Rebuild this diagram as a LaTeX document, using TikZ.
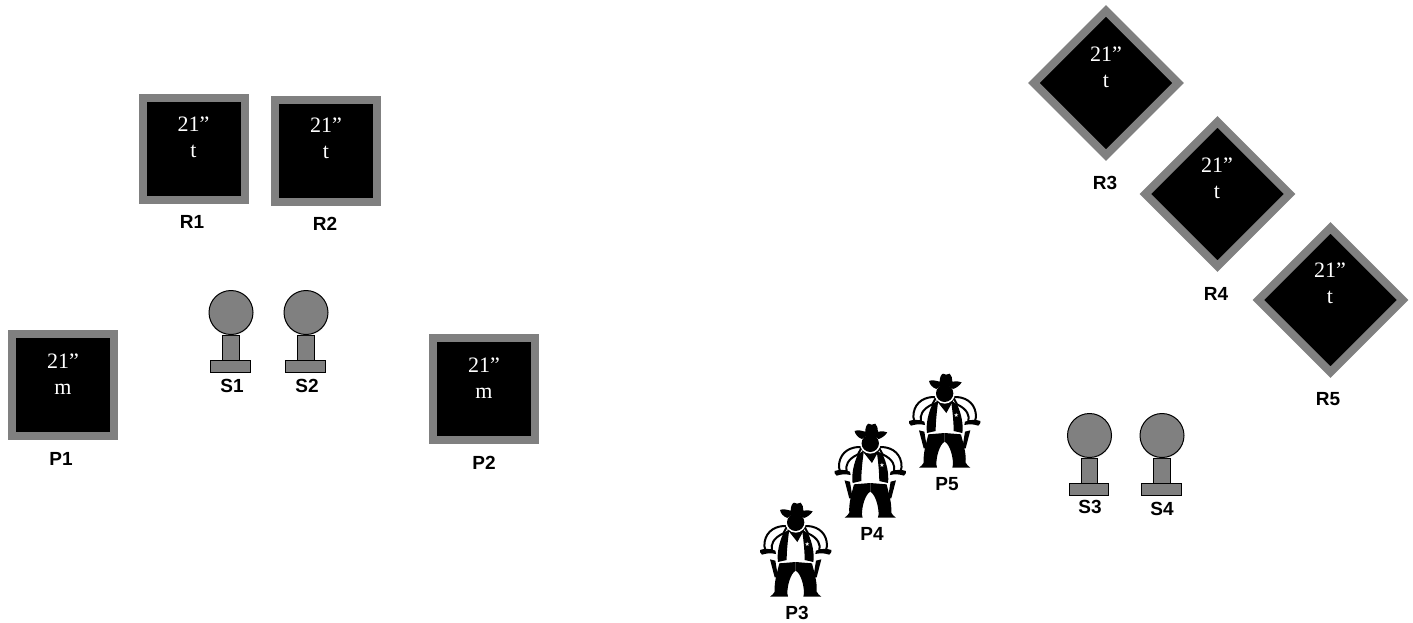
\documentclass[tikz,border=0pt]{standalone}
\usepackage{fontspec}
\setmainfont{Liberation Serif}
\newfontfamily\labfont{Liberation Sans}
\newfontfamily\symfont{DejaVu Sans}
\usetikzlibrary{shadows}
\definecolor{fg}{RGB}{128,128,128}
\tikzset{
  panelsq/.style={draw=fg,fill=black,line width=8pt,minimum size=102pt,inner sep=0pt,
    drop shadow={opacity=.22,shadow xshift=0pt,shadow yshift=-2pt}},
  paneltxt/.style={text=white,font=\fontsize{22}{26}\selectfont,align=center,inner sep=0pt},
  lab/.style={font=\labfont\bfseries\fontsize{19}{21}\selectfont,inner sep=0pt,text=black},
  knob/.style={circle,draw=black,fill=fg,line width=1pt,minimum size=44pt,inner sep=0pt,
    drop shadow={opacity=.15,shadow xshift=0pt,shadow yshift=-1.5pt}},
  stem/.style={rectangle,draw=black,fill=fg,line width=.7pt,minimum width=16.5pt,minimum height=25pt,inner sep=0pt},
  foot/.style={rectangle,draw=black,fill=fg,line width=.7pt,minimum width=39.5pt,minimum height=12pt,inner sep=0pt},
  halfman/.pic={
    % arm tube and hand
    \draw[black,fill=white,line width=2pt] (112,108) .. controls (78,106) and (50,122) .. (44,155)
      .. controls (42,165) and (43,172) .. (46,180) -- (66,180) .. controls (62,165) and (68,145) .. (100,130) -- cycle;
    \fill[black] (30,180) .. controls (42,176) and (58,174) .. (76,182) -- (78,192) .. controls (60,188) and (50,190) .. (36,194) .. controls (30,190) and (29,184) .. (30,180) -- cycle;
    % holster
    \fill[black] (60,208) -- (76,212) -- (84,262) -- (74,262) -- cycle;
    % vest panel
    \fill[black] (100,130) -- (118,118) .. controls (112,160) and (110,190) .. (110,210) -- (84,216) .. controls (80,190) and (88,155) .. (100,130) -- cycle;
    % leg
    \fill[black] (88,220) -- (137,216) -- (137,242) .. controls (122,250) and (112,285) .. (112,310) -- (114,320) -- (60,320) .. controls (66,314) and (72,312) .. (74,305) .. controls (72,275) and (82,245) .. (88,220) -- cycle;
  }
}
\begin{document}
\begin{tikzpicture}[x=1pt,y=-1pt]
\useasboundingbox (0,0) rectangle (1413,622);
% square panels
\node[panelsq] (R1) at (193.5,149) {};
\node[panelsq] (R2) at (326,151) {};
\node[panelsq] (P1) at (63,385) {};
\node[panelsq] (P2) at (484,389) {};
\node[panelsq,rotate=45] (R3) at (1106,83) {};
\node[panelsq,rotate=45] (R4) at (1217.5,194) {};
\node[panelsq,rotate=45] (R5) at (1330.5,300) {};
\node[paneltxt] (tR1) at (193.5,137) {21”\\t};
\node[paneltxt] (tR2) at (326,138.5) {21”\\t};
\node[paneltxt] (tP1) at (63,374) {21”\\m};
\node[paneltxt] (tP2) at (484,378) {21”\\m};
\node[paneltxt] (tR3) at (1106,67) {21”\\t};
\node[paneltxt] (tR4) at (1217,178) {21”\\t};
\node[paneltxt] (tR5) at (1330,283) {21”\\t};
\node[lab] (lR1) at (192,222) {R1};
\node[lab] (lR2) at (325,224) {R2};
\node[lab] (lP1) at (61,459) {P1};
\node[lab] (lP2) at (484,463) {P2};
\node[lab] (lR3) at (1105,183) {R3};
\node[lab] (lR4) at (1216,294) {R4};
\node[lab] (lR5) at (1328,399) {R5};
% stands
\foreach \nm/\cx/\cy/\lx/\ly in {S1/231/312.5/232/386, S2/306/312.5/307/386, S3/1089.5/435.5/1090/507, S4/1162/435.5/1162/509}{
  \node[stem] (\nm stem) at (\cx,\cy+35) {};
  \node[foot] (\nm foot) at (\cx-0.5,\cy+54) {};
  \node[knob] (\nm) at (\cx,\cy) {};
  \node[lab] (l\nm) at (\lx,\ly) {\nm};
}
% cowboys
\foreach \nm/\ox/\oy/\lx/\ly in {P3/750/490/797/613, P4/824.6/411/872/534, P5/899/361/947/484}{
  \begin{scope}[shift={(\ox,\oy)},x=1/3*1pt,y=-1/3*1pt]
    \pic {halfman};
    \begin{scope}[shift={(274,0)},x=-1/3*1pt]
      \pic {halfman};
    \end{scope}
    % scarf, head, hat, star
    \fill[black] (112,118) -- (165,115) -- (142,156) -- cycle;
    \fill[white] (137,97) circle[radius=31];
    \fill[black] (137,97) circle[radius=26];
    \fill[black] (90,60) .. controls (100,55) and (112,60) .. (122,62) .. controls (122,50) and (126,40) .. (132,38) .. controls (138,42) and (144,42) .. (152,38) .. controls (158,44) and (160,52) .. (160,62) .. controls (170,60) and (180,60) .. (188,64) .. controls (182,74) and (170,82) .. (162,84) .. controls (145,70) and (125,70) .. (112,84) .. controls (100,80) and (92,70) .. (90,60) -- cycle;
    \node[text=white,font=\symfont\fontsize{6}{6}\selectfont,inner sep=0pt] (\nm star) at (172,163) {★};
  \end{scope}
  \node[lab] (l\nm) at (\lx,\ly) {\nm};
}
\end{tikzpicture}
\end{document}
